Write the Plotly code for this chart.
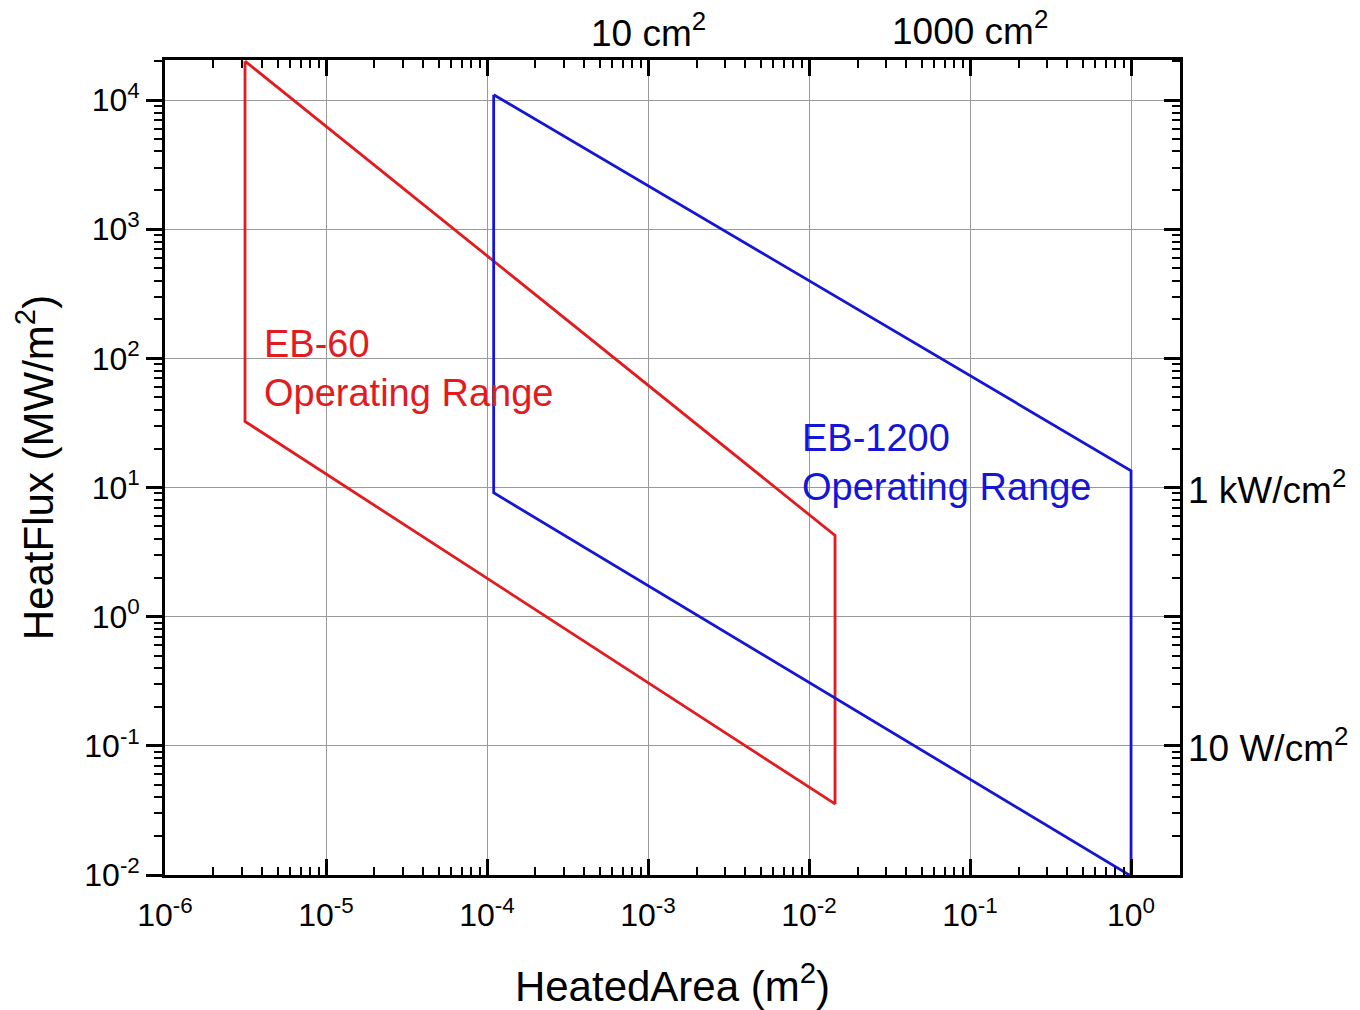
import math
import plotly.graph_objects as go

# EB-60 operating range polygon (HeatedArea m^2, HeatFlux MW/m^2)
eb60_area = [3.14e-6, 3.14e-6, 0.0145, 0.0145, 3.14e-6]
eb60_flux = [2.0e4, 32.5, 0.0355, 4.25, 2.0e4]

# EB-1200 operating range polygon
eb1200_area = [1.1e-4, 1.1e-4, 0.975, 1.0, 1.0, 1.1e-4]
eb1200_flux = [1.1e4, 9.1, 0.01, 0.0095, 13.5, 1.1e4]

x_exponents = [-6, -5, -4, -3, -2, -1, 0]
y_exponents = [-2, -1, 0, 1, 2, 3, 4]

top_tick_vals = [1e-3, 1e-1]
top_tick_text = ["10 cm<sup>2</sup>", "1000 cm<sup>2</sup>"]
right_tick_vals = [10, 0.1]
right_tick_text = ["1 kW/cm<sup>2</sup>", "10 W/cm<sup>2</sup>"]

FONT = "Arial, Liberation Sans, sans-serif"
RED = "#e31b1f"
BLUE = "#1515d6"

xr = [-6, 0.304]
yr = [-2, 4.31]


def decade_vals(exps):
    return [10.0 ** e for e in exps]


def decade_text(exps):
    return ["10<sup>%d</sup>" % e for e in exps]


def minor_vals(exps):
    out = []
    for e in list(exps) + [exps[-1] + 1]:
        for m in range(2, 10):
            out.append(m * 10.0 ** (e - 1))
    return out


fig = go.Figure()
fig.add_trace(go.Scatter(x=eb60_area, y=eb60_flux, mode="lines",
                         line=dict(color=RED, width=2.8), showlegend=False))
fig.add_trace(go.Scatter(x=eb1200_area, y=eb1200_flux, mode="lines",
                         line=dict(color=BLUE, width=2.8), showlegend=False))
# invisible trace to anchor the mirror axes
fig.add_trace(go.Scatter(x=[1e-3], y=[1], xaxis="x2", yaxis="y2", mode="markers",
                         marker=dict(opacity=0), showlegend=False, hoverinfo="skip"))

axis_common = dict(type="log", showline=True, linecolor="black", linewidth=2.6,
                   tickcolor="black", tickwidth=2.6, ticklen=16, automargin=False,
                   zeroline=False)


def minor(exps, direction):
    return dict(tickmode="array", tickvals=minor_vals(exps), ticks=direction,
                ticklen=8, tickwidth=2, tickcolor="black", showgrid=False)


fig.update_layout(
    width=1360, height=1010,
    margin=dict(l=157, r=188, t=52, b=143),
    plot_bgcolor="white", paper_bgcolor="white",
    font=dict(family=FONT, color="black"),
    xaxis=dict(**axis_common, range=xr, ticks="inside",
               tickmode="array", tickvals=decade_vals(x_exponents), ticktext=decade_text(x_exponents),
               showgrid=True, gridcolor="#9a9a9a", gridwidth=1.2,
               tickfont=dict(size=32, family=FONT), ticklabelstandoff=10,
               minor=minor(x_exponents, "inside"),
               title=dict(text="HeatedArea (m<sup>2</sup>)", font=dict(size=42, family=FONT), standoff=40)),
    yaxis=dict(**axis_common, range=yr, ticks="outside",
               tickmode="array", tickvals=decade_vals(y_exponents), ticktext=decade_text(y_exponents),
               showgrid=True, gridcolor="#9a9a9a", gridwidth=1.2,
               tickfont=dict(size=32, family=FONT),
               minor=minor(y_exponents, "outside"),
               title=dict(text="HeatFlux (MW/m<sup>2</sup>)", font=dict(size=42, family=FONT), standoff=24)),
    xaxis2=dict(**axis_common, range=xr, overlaying="x", side="top", ticks="inside",
                tickmode="array", tickvals=decade_vals(x_exponents),
                showgrid=False, showticklabels=False,
                minor=minor(x_exponents, "inside")),
    yaxis2=dict(**axis_common, range=yr, overlaying="y", side="right", ticks="inside",
                tickmode="array", tickvals=decade_vals(y_exponents),
                showgrid=False, showticklabels=False,
                minor=minor(y_exponents, "inside")),
)

for v, t, ys in zip(top_tick_vals, top_tick_text, [4, 6]):
    fig.add_annotation(x=math.log10(v), y=1, xref="x", yref="paper", text=t, showarrow=False,
                       xanchor="center", yanchor="bottom", yshift=ys,
                       font=dict(size=37, family=FONT, color="black"))
for v, t in zip(right_tick_vals, right_tick_text):
    fig.add_annotation(x=1, y=math.log10(v), xref="paper", yref="y", text=t, showarrow=False,
                       xanchor="left", yanchor="middle", xshift=6,
                       font=dict(size=37, family=FONT, color="black"))

fig.add_annotation(x=math.log10(4.0e-6), y=math.log10(84), xref="x", yref="y",
                   text="EB-60<br>Operating Range", showarrow=False, align="left",
                   xanchor="left", yanchor="middle",
                   font=dict(size=38, family=FONT, color=RED))
fig.add_annotation(x=math.log10(0.0088), y=math.log10(15.7), xref="x", yref="y",
                   text="EB-1200<br>Operating Range", showarrow=False, align="left",
                   xanchor="left", yanchor="middle",
                   font=dict(size=38, family=FONT, color=BLUE))

fig.write_html("out.html")
